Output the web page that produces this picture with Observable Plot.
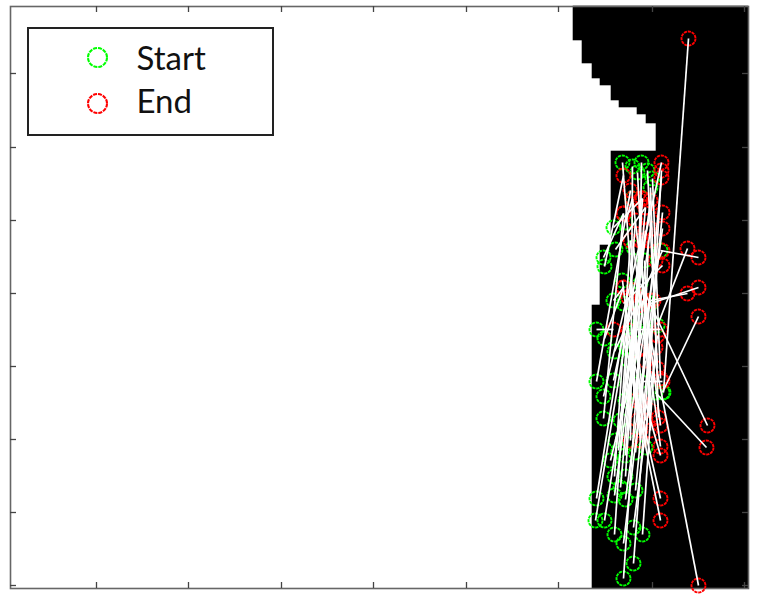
<!DOCTYPE html>
<html><head><meta charset="utf-8">
<style>html,body{margin:0;padding:0;background:#fff}svg{display:block}</style>
<script src="https://cdn.jsdelivr.net/npm/d3@7"></script>
<script src="https://cdn.jsdelivr.net/npm/@observablehq/plot@0.6"></script>
</head><body><script>
const xTicks = [96,188,281,373,466,558,652,744];
const yTicks = [73,147,220,293,366,439,512,585];
const maskTop =    [6,40,63,78,85,100,107,114,123,151,245,305];
const maskBottom = [40,63,78,85,100,107,114,123,151,245,305,588];
const maskLeft =   [573,582,592,600,611,619,637,646,656,611,600,592];
const startX = [663,623,633,596,604,603,615,613,625,596,604,595,604,614,623,642,633,614,625,614,625,635,620,625,635,645,603,603,613,614,613,623,622,641,632,637,647,652,650,632,633,640,655,662,643,657,660,650,650,625,628,630,636,640,620,628,633,640,618,625,615,610,596,628,632,640,622,644];
const startY = [392,578,563,498,266,257,249,227,222,329,338,520,520,534,543,534,527,476,476,495,499,490,487,455,452,447,418,396,380,351,300,303,162,162,166,172,170,178,187,198,247,283,392,392,300,325,250,303,300,345,360,350,329,381,420,430,400,440,450,400,440,460,381,340,300,320,280,260];
const endX =   [688,642,653,628,623,623,645,642,632,613,623,633,638,628,645,655,657,630,640,650,662,662,645,642,661,661,623,640,661,662,623,662,640,637,630,650,657,660,658,660,660,707,706,698,698,687,698,698,687,660,660,660,660,662,650,655,640,648,635,645,650,637,630,640,645,636,640,650];
const endY =   [38,300,300,297,175,213,207,198,198,329,287,290,305,330,360,347,335,240,240,228,228,212,207,198,177,170,213,240,162,250,287,265,400,420,440,430,368,378,417,425,446,425,447,316,585,248,257,287,293,498,520,455,329,381,200,260,200,240,220,230,300,350,190,440,420,400,430,410];
const legendLabels = ["Start","End"];
const legendColors = ["#00ff00","#ff0000"];
const legendY = [57,103];
const legendTextY = [59,102];
const idx = d3.range(startX.length);
const maskIdx = d3.range(maskTop.length);
const chart = Plot.plot({
  width:759,height:600,
  marginLeft:10,marginRight:11,marginTop:6,marginBottom:12,
  style:{background:"#fff",overflow:"visible"},
  x:{domain:[10,748],range:[10,748],axis:null},
  y:{domain:[6,588],range:[6,588],axis:null},
  marks:[
    Plot.rect(maskIdx,{x1:i=>maskLeft[i],x2:748,y1:i=>maskTop[i],y2:i=>maskBottom[i],fill:"#000",inset:-0.3}),
    Plot.frame({stroke:"#666",strokeWidth:1.6}),
    Plot.ruleX(xTicks,{y1:588,y2:582,stroke:"#444",strokeWidth:1.3}),
    Plot.ruleX(xTicks,{y1:6,y2:12,stroke:"#444",strokeWidth:1.3}),
    Plot.ruleY(yTicks,{x1:10,x2:16,stroke:"#444",strokeWidth:1.3}),
    Plot.ruleY(yTicks,{x1:748,x2:742,stroke:"#444",strokeWidth:1.3}),
    Plot.dot(idx,{x:i=>startX[i],y:i=>startY[i],r:7,stroke:"#00ff00",strokeWidth:1.9,strokeDasharray:"3.2 0.8"}),
    Plot.dot(idx,{x:i=>endX[i],y:i=>endY[i],r:7,stroke:"#ff0000",strokeWidth:1.9,strokeDasharray:"3.2 0.8"}),
    Plot.link(idx,{x1:i=>startX[i],y1:i=>startY[i],x2:i=>endX[i],y2:i=>endY[i],stroke:"#fff",strokeWidth:1.7}),
    Plot.rect([0],{x1:28,x2:273,y1:28,y2:135,fill:"#fff",stroke:"#222",strokeWidth:2}),
    Plot.dot(legendLabels,{x:97,y:(d,i)=>legendY[i],r:9.5,stroke:(d,i)=>legendColors[i],strokeWidth:2.1,strokeDasharray:"4 1"}),
    Plot.text(legendLabels,{x:136,y:(d,i)=>legendTextY[i],text:d=>d,textAnchor:"start",fontSize:33,fontFamily:"Lato",fill:"#111"})
  ]
});
document.body.appendChild(chart);
</script></body></html>
